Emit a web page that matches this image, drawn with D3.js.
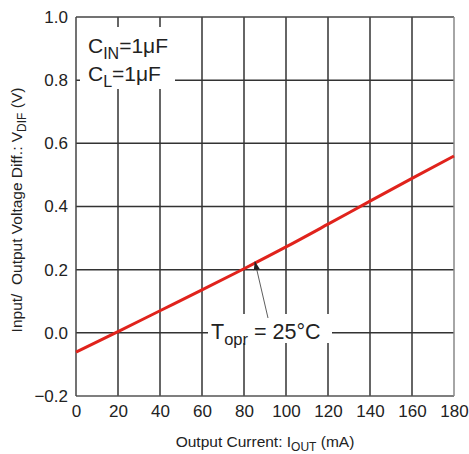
<!DOCTYPE html>
<html><head><meta charset="utf-8">
<script src="https://cdn.jsdelivr.net/npm/d3@7"></script>
<style>body{margin:0;background:#fff}svg{display:block;font-family:"Liberation Sans",Arial,sans-serif}</style>
</head><body>
<script>
const currents = [0, 20, 40, 60, 80, 100, 120, 140, 160, 180];
const vdif = [-0.061, 0.004, 0.070, 0.136, 0.203, 0.272, 0.344, 0.417, 0.489, 0.560];
const xTicks = [0, 20, 40, 60, 80, 100, 120, 140, 160, 180];
const yTicks = [-0.2, 0.0, 0.2, 0.4, 0.6, 0.8, 1.0];

const W = 469, H = 454;
const m = {l: 76, r: 15, t: 17, b: 58};
const svg = d3.select("body").append("svg").attr("width", W).attr("height", H);
const x = d3.scaleLinear().domain([0, 180]).range([m.l, W - m.r]);
const y = d3.scaleLinear().domain([-0.2, 1.0]).range([H - m.b, m.t]);

const grid = svg.append("g").attr("stroke", "#333").attr("stroke-width", 1.5);
grid.selectAll("line.v").data(xTicks.slice(1, -1)).join("line")
  .attr("x1", d => x(d)).attr("x2", d => x(d)).attr("y1", y(1.0)).attr("y2", y(-0.2));
grid.selectAll("line.h").data(yTicks.slice(1, -1)).join("line")
  .attr("x1", x(0)).attr("x2", x(180)).attr("y1", d => y(d)).attr("y2", d => y(d));

// frame
svg.append("line").attr("x1", x(0)).attr("x2", x(180)).attr("y1", y(1)).attr("y2", y(1)).attr("stroke", "#444").attr("stroke-width", 1.5);
svg.append("line").attr("x1", x(0)).attr("x2", x(180)).attr("y1", y(-0.2)).attr("y2", y(-0.2)).attr("stroke", "#555").attr("stroke-width", 1.5);
svg.append("line").attr("x1", x(0)).attr("x2", x(0)).attr("y1", y(1)).attr("y2", y(-0.2)).attr("stroke", "#444").attr("stroke-width", 1.5);
svg.append("line").attr("x1", x(180)).attr("x2", x(180)).attr("y1", y(1)).attr("y2", y(-0.2)).attr("stroke", "#888").attr("stroke-width", 1.5);

const xAxis = svg.append("g").attr("transform", `translate(0,${y(-0.2)})`)
  .call(d3.axisBottom(x).tickValues(xTicks).tickSize(0).tickPadding(9).tickFormat(d3.format("d")));
xAxis.select(".domain").remove();
xAxis.selectAll("text").attr("font-size", 17).attr("fill", "#222").attr("font-family", "Liberation Sans, Arial, sans-serif");
const yAxis = svg.append("g").attr("transform", `translate(${x(0)},0)`)
  .call(d3.axisLeft(y).tickValues(yTicks).tickSize(0).tickPadding(8).tickFormat(d3.format(".1f")));
yAxis.select(".domain").remove();
yAxis.selectAll("text").attr("font-size", 17).attr("fill", "#222").attr("font-family", "Liberation Sans, Arial, sans-serif");

// annotation boxes
svg.append("rect").attr("x", 80).attr("y", 27).attr("width", 95).attr("height", 62).attr("fill", "#fff");
svg.append("rect").attr("x", 208).attr("y", 314).attr("width", 124).attr("height", 29).attr("fill", "#fff");

// data line
svg.append("path").datum(currents.map((c, i) => [c, vdif[i]]))
  .attr("fill", "none").attr("stroke", "#e0231c").attr("stroke-width", 3)
  .attr("d", d3.line().x(d => x(d[0])).y(d => y(d[1])).curve(d3.curveMonotoneX));

// arrow
svg.append("defs").append("marker").attr("id", "ah").attr("viewBox", "0 0 10 10")
  .attr("refX", 9).attr("refY", 5).attr("markerWidth", 9).attr("markerHeight", 9)
  .attr("markerUnits", "userSpaceOnUse").attr("orient", "auto")
  .append("path").attr("d", "M0,1.5 L10,5 L0,8.5 Z").attr("fill", "#222");
svg.append("line").attr("x1", 268).attr("y1", 318).attr("x2", 255).attr("y2", 262)
  .attr("stroke", "#333").attr("stroke-width", 0.8).attr("marker-end", "url(#ah)");

function subText(xp, yp, main, sub, rest, fs, subfs) {
  const t = svg.append("text").attr("x", xp).attr("y", yp).attr("font-size", fs).attr("fill", "#222");
  t.append("tspan").text(main);
  t.append("tspan").attr("font-size", subfs).attr("dy", fs * 0.3).text(sub);
  t.append("tspan").attr("dy", -fs * 0.3).text(rest);
  return t;
}
subText(88, 53, "C", "IN", "=1μF", 21, 16);
subText(88, 81, "C", "L", "=1μF", 21, 16);
subText(211, 339, "T", "opr", " = 25°C", 21.5, 16.5);

// axis titles
const xt = svg.append("text").attr("x", x(90)).attr("y", 447).attr("text-anchor", "middle")
  .attr("font-size", 15.5).attr("fill", "#222");
xt.append("tspan").text("Output Current: I");
xt.append("tspan").attr("font-size", 12).attr("dy", 3.5).text("OUT");
xt.append("tspan").attr("dy", -3.5).text(" (mA)");

const yt = svg.append("text").attr("transform", `translate(22,210) rotate(-90)`)
  .attr("text-anchor", "middle").attr("font-size", 15.5).attr("fill", "#222");
yt.append("tspan").text("Input/\u00a0 Output Voltage Diff.: V");
yt.append("tspan").attr("font-size", 12).attr("dy", 3.5).text("DIF");
yt.append("tspan").attr("dy", -3.5).text(" (V)");
</script>
</body></html>
